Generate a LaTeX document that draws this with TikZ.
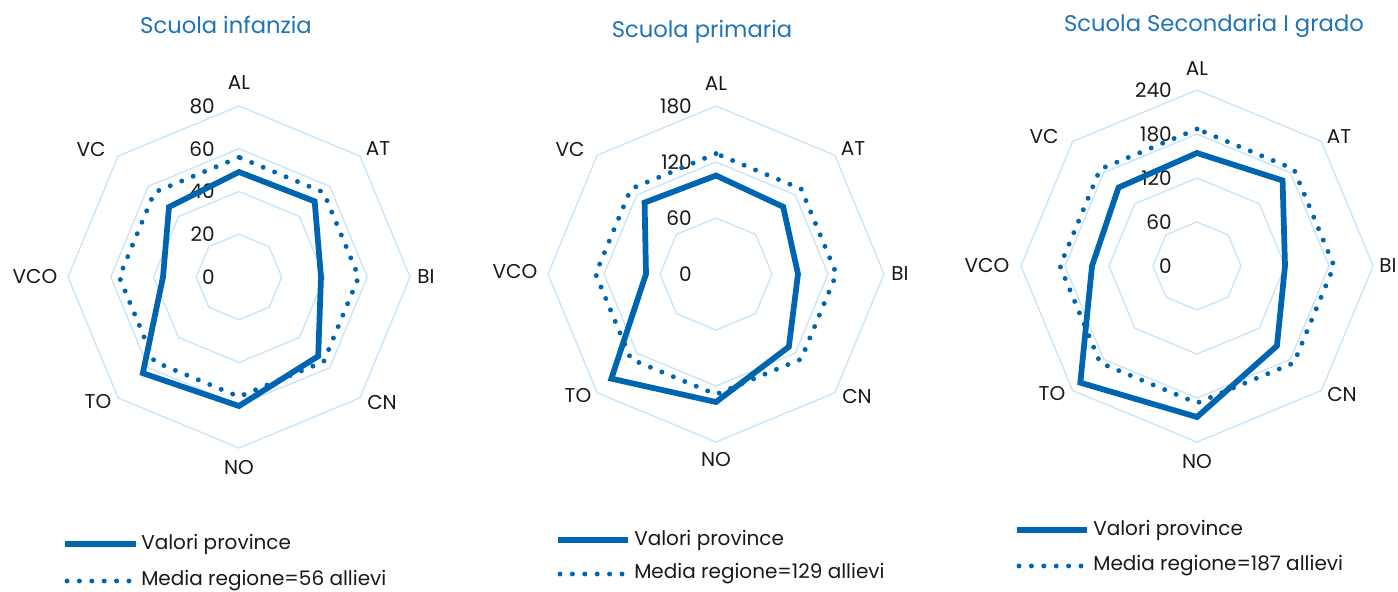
\documentclass[tikz,border=0pt]{standalone}
\usepackage{fontspec}
\setmainfont{Poppins}
\usepackage{tikz}
\usetikzlibrary{shapes.geometric}
\definecolor{lineblue}{RGB}{0,101,176}
\definecolor{gridblue}{RGB}{200,228,250}
\definecolor{titleblue}{RGB}{31,115,183}
\newcommand{\px}{0.75pt}
\pgfdeclarelayer{edgelayer}
\pgfdeclarelayer{nodelayer}
\pgfsetlayers{edgelayer,nodelayer,main}
\tikzstyle{gridring}=[regular polygon,regular polygon sides=8,regular polygon rotate=22.5,draw=gridblue,line width=1pt,inner sep=0pt]
\tikzstyle{regionmean}=[regular polygon,regular polygon sides=8,regular polygon rotate=22.5,draw=lineblue,line width=3.7pt,line cap=round,dash pattern=on 0pt off 9.3pt,inner sep=0pt]
\tikzstyle{province}=[-,draw=lineblue,line width=4.3pt,line join=miter]
\tikzstyle{legdot}=[-,draw=lineblue,line width=3.7pt,line cap=round,dash pattern=on 0pt off 9.3pt]
\tikzstyle{axislabel}=[inner sep=0pt,text=black!90,font=\fontsize{15}{18}\selectfont]
\tikzstyle{ticklabel}=[axislabel,anchor=east]
\tikzstyle{legendtext}=[axislabel,anchor=west]
\tikzstyle{charttitle}=[inner sep=0pt,text=titleblue,font=\fontsize{17}{20}\selectfont]

\begin{document}
\begin{tikzpicture}[x=\px,y=-\px]
	\useasboundingbox (0,0) rectangle (1398,592);
	% Scuola infanzia
	\begin{scope}[shift={(239,277)}]
		\begin{pgfonlayer}{edgelayer}
			\node [style=gridring, minimum size=85.5*\px] (iR1) at (0,0) {};
			\node [style=gridring, minimum size=171*\px] (iR2) at (0,0) {};
			\node [style=gridring, minimum size=256.5*\px] (iR3) at (0,0) {};
			\node [style=gridring, minimum size=342*\px] (iR4) at (0,0) {};
		\end{pgfonlayer}
		\node [style=ticklabel] (i80) at (-24,-171) {80};
		\node [style=ticklabel] (i60) at (-24,-128) {60};
		\node [style=ticklabel] (i40) at (-24,-85.5) {40};
		\node [style=ticklabel] (i20) at (-24,-43) {20};
		\node [style=ticklabel] (i0) at (-24,0) {0};
		\node [style=axislabel] (iAL) at (0,-194) {AL};
		\node [style=axislabel] (iAT) at (139,-128) {AT};
		\node [style=axislabel] (iBI) at (187,0) {BI};
		\node [style=axislabel] (iCN) at (143,125) {CN};
		\node [style=axislabel] (iNO) at (0,191) {NO};
		\node [style=axislabel] (iTO) at (-141,125) {TO};
		\node [style=axislabel] (iVCO) at (-204,0) {VCO};
		\node [style=axislabel] (iVC) at (-148,-128) {VC};
		\node [style=regionmean, minimum size=239.4*\px] (iM) at (0,0) {};
		\coordinate (ipAL) at (270:105);
		\coordinate (ipAT) at (315:107);
		\coordinate (ipBI) at (0:82);
		\coordinate (ipCN) at (45:112);
		\coordinate (ipNO) at (90:129);
		\coordinate (ipTO) at (135:136);
		\coordinate (ipVCO) at (180:76);
		\coordinate (ipVC) at (225:99);
		\draw [style=province] (ipAL) -- (ipAT) -- (ipBI) -- (ipCN) -- (ipNO) -- (ipTO) -- (ipVCO) -- (ipVC) -- cycle;
	\end{scope}
	% Scuola primaria
	\begin{scope}[shift={(716,274)}]
		\begin{pgfonlayer}{edgelayer}
			\node [style=gridring, minimum size=112*\px] (pR1) at (0,0) {};
			\node [style=gridring, minimum size=224*\px] (pR2) at (0,0) {};
			\node [style=gridring, minimum size=336*\px] (pR3) at (0,0) {};
		\end{pgfonlayer}
		\node [style=ticklabel] (p180) at (-24,-168) {180};
		\node [style=ticklabel] (p120) at (-24,-112) {120};
		\node [style=ticklabel] (p60) at (-24,-56) {60};
		\node [style=ticklabel] (p0) at (-24,0) {0};
		\node [style=axislabel] (pAL) at (0,-190) {AL};
		\node [style=axislabel] (pAT) at (137,-125) {AT};
		\node [style=axislabel] (pBI) at (184,0) {BI};
		\node [style=axislabel] (pCN) at (141,122) {CN};
		\node [style=axislabel] (pNO) at (0,186) {NO};
		\node [style=axislabel] (pTO) at (-138,122) {TO};
		\node [style=axislabel] (pVCO) at (-201,-2) {VCO};
		\node [style=axislabel] (pVC) at (-146,-125) {VC};
		\node [style=regionmean, minimum size=240.8*\px] (pM) at (0,0) {};
		\coordinate (ppAL) at (270:98.5);
		\coordinate (ppAT) at (315:95);
		\coordinate (ppBI) at (0:82);
		\coordinate (ppCN) at (45:103);
		\coordinate (ppNO) at (90:128);
		\coordinate (ppTO) at (135:148);
		\coordinate (ppVCO) at (180:70);
		\coordinate (ppVC) at (225:101);
		\draw [style=province] (ppAL) -- (ppAT) -- (ppBI) -- (ppCN) -- (ppNO) -- (ppTO) -- (ppVCO) -- (ppVC) -- cycle;
	\end{scope}
	% Scuola Secondaria I grado
	\begin{scope}[shift={(1197,266)}]
		\begin{pgfonlayer}{edgelayer}
			\node [style=gridring, minimum size=88*\px] (sR1) at (0,0) {};
			\node [style=gridring, minimum size=176*\px] (sR2) at (0,0) {};
			\node [style=gridring, minimum size=264*\px] (sR3) at (0,0) {};
			\node [style=gridring, minimum size=352*\px] (sR4) at (0,0) {};
		\end{pgfonlayer}
		\node [style=ticklabel] (s240) at (-25,-176) {240};
		\node [style=ticklabel] (s180) at (-25,-132) {180};
		\node [style=ticklabel] (s120) at (-25,-88) {120};
		\node [style=ticklabel] (s60) at (-25,-44) {60};
		\node [style=ticklabel] (s0) at (-25,0) {0};
		\node [style=axislabel] (sAL) at (0,-197) {AL};
		\node [style=axislabel] (sAT) at (142,-129) {AT};
		\node [style=axislabel] (sBI) at (191,0) {BI};
		\node [style=axislabel] (sCN) at (145,128) {CN};
		\node [style=axislabel] (sNO) at (0,196) {NO};
		\node [style=axislabel] (sTO) at (-145,128) {TO};
		\node [style=axislabel] (sVCO) at (-210,0) {VCO};
		\node [style=axislabel] (sVC) at (-153,-130) {VC};
		\node [style=regionmean, minimum size=274*\px] (sM) at (0,0) {};
		\coordinate (spAL) at (270:113);
		\coordinate (spAT) at (315:121);
		\coordinate (spBI) at (0:88);
		\coordinate (spCN) at (45:113);
		\coordinate (spNO) at (90:151);
		\coordinate (spTO) at (135:165);
		\coordinate (spVCO) at (180:105);
		\coordinate (spVC) at (225:111);
		\draw [style=province] (spAL) -- (spAT) -- (spBI) -- (spCN) -- (spNO) -- (spTO) -- (spVCO) -- (spVC) -- cycle;
	\end{scope}
	% titles
	\node [style=charttitle] (tI) at (226,25) {Scuola infanzia};
	\node [style=charttitle] (tP) at (702,32) {Scuola primaria};
	\node [style=charttitle] (tS) at (1214,26) {Scuola Secondaria I grado};
	% legends
	\coordinate (iLa) at (65,544);
	\coordinate (iLb) at (136,544);
	\coordinate (iDa) at (67,581);
	\coordinate (iDb) at (136,581);
	\draw [style=province] (iLa) -- (iLb);
	\draw [style=legdot] (iDa) -- (iDb);
	\node [style=legendtext] (iLt) at (141,544) {Valori province};
	\node [style=legendtext] (iDt) at (141,581) {Media regione=56 allievi};
	\coordinate (pLa) at (558,540);
	\coordinate (pLb) at (628,540);
	\coordinate (pDa) at (560,574);
	\coordinate (pDb) at (628,574);
	\draw [style=province] (pLa) -- (pLb);
	\draw [style=legdot] (pDa) -- (pDb);
	\node [style=legendtext] (pLt) at (634,540) {Valori province};
	\node [style=legendtext] (pDt) at (634,574) {Media regione=129 allievi};
	\coordinate (sLa) at (1017,530);
	\coordinate (sLb) at (1087,530);
	\coordinate (sDa) at (1019,566);
	\coordinate (sDb) at (1087,566);
	\draw [style=province] (sLa) -- (sLb);
	\draw [style=legdot] (sDa) -- (sDb);
	\node [style=legendtext] (sLt) at (1093,530) {Valori province};
	\node [style=legendtext] (sDt) at (1093,566) {Media regione=187 allievi};
\end{tikzpicture}
\end{document}
